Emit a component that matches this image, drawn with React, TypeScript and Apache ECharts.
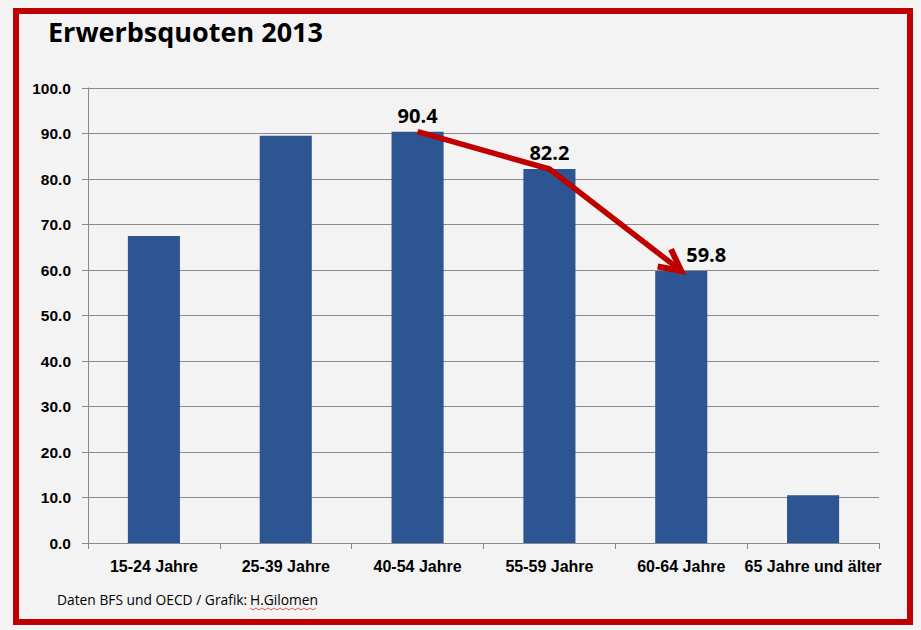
import React, { useEffect, useRef } from "react";
import * as echarts from "echarts";

const categories = ["15-24 Jahre", "25-39 Jahre", "40-54 Jahre", "55-59 Jahre", "60-64 Jahre", "65 Jahre und älter"];
const values = [67.5, 89.5, 90.4, 82.2, 59.8, 10.5];
const labeledIndices = [2, 3, 4];
const labelOffsets: Record<number, [number, number]> = { 2: [0, 0], 3: [0, 0], 4: [25, 0] };
const arrowPath: [number, number][] = [
  [2, 90.4],
  [3, 82.2],
  [4, 59.8],
];
const yMin = 0;
const yMax = 100;
const yInterval = 10;

const title = "Erwerbsquoten 2013";
const sourceText = "Daten BFS und OECD / Grafik: ";
const authorText = "H.Gilomen";

const RED = "#c00000";
const BLUE = "#2d5592";
const GRID = "#8a8a8a";
const ARIAL = "'Liberation Sans', Arial, sans-serif";
const SANS = "'Open Sans', 'Noto Sans', sans-serif";

export default function App() {
  const ref = useRef<HTMLDivElement>(null);

  useEffect(() => {
    if (!ref.current) return;
    const chart = echarts.init(ref.current, undefined, { renderer: "svg" });

    const barData = values.map((v, i) =>
      labeledIndices.includes(i)
        ? {
            value: v,
            label: {
              show: true,
              position: "top",
              distance: 6,
              offset: labelOffsets[i] || [0, 0],
              formatter: (p: any) => Number(p.value).toFixed(1),
              fontFamily: SANS,
              fontWeight: "bold",
              fontSize: 20,
              color: "#000",
            },
          }
        : { value: v }
    );

    // wavy underline points
    const wave: number[][] = [];
    for (let k = 0; k <= 22; k++) {
      wave.push([250 + k * 3, 608 + (k % 2 === 0 ? 0 : 2)]);
    }

    chart.setOption({
      animation: false,
      backgroundColor: "#f3f3f3",
      grid: { left: 88, right: 42, top: 88, bottom: 87, containLabel: false },
      xAxis: {
        type: "category",
        data: categories,
        axisLine: { show: true, lineStyle: { color: GRID, width: 1 } },
        axisTick: { show: true, interval: 0, length: 6, lineStyle: { color: GRID } },
        axisLabel: {
          interval: 0,
          margin: 15,
          fontFamily: ARIAL,
          fontWeight: "bold",
          fontSize: 16,
          color: "#000",
        },
        splitLine: { show: false },
      },
      yAxis: {
        type: "value",
        min: yMin,
        max: yMax,
        interval: yInterval,
        axisLine: { show: true, lineStyle: { color: GRID, width: 1 } },
        axisTick: { show: true, length: 6, lineStyle: { color: GRID } },
        axisLabel: {
          margin: 17,
          formatter: (v: number) => v.toFixed(1),
          fontFamily: ARIAL,
          fontWeight: "bold",
          fontSize: 15.5,
          color: "#000",
        },
        splitLine: { show: true, lineStyle: { color: GRID, width: 1 } },
      },
      series: [
        {
          type: "bar",
          data: barData,
          barWidth: "39.5%",
          itemStyle: { color: BLUE },
          label: { show: false },
        },
        {
          type: "custom",
          data: arrowPath,
          encode: { x: 0, y: 1 },
          z: 10,
          renderItem: (params: any, api: any) => {
            if (params.dataIndex !== arrowPath.length - 1) return null;
            const pts = arrowPath.map((p) => api.coord(p));
            const tip = pts[pts.length - 1];
            const prev = pts[pts.length - 2];
            const ang = Math.atan2(tip[1] - prev[1], tip[0] - prev[0]);
            const back = ang + Math.PI;
            const wl = 24;
            const half = (27 * Math.PI) / 180;
            const w1 = [tip[0] + wl * Math.cos(back - half), tip[1] + wl * Math.sin(back - half)];
            const w2 = [tip[0] + wl * Math.cos(back + half), tip[1] + wl * Math.sin(back + half)];
            return {
              type: "group",
              children: [
                {
                  type: "polyline",
                  shape: { points: pts },
                  style: { stroke: RED, lineWidth: 5.5, fill: null, lineJoin: "round", lineCap: "butt" },
                },
                {
                  type: "polyline",
                  shape: { points: [w1, tip, w2] },
                  style: { stroke: RED, lineWidth: 6, fill: null, lineJoin: "miter", lineCap: "butt" },
                },
              ],
            };
          },
        },
      ],
      graphic: [
        {
          type: "rect",
          shape: { x: 16, y: 11, width: 894, height: 611 },
          style: { fill: null, stroke: RED, lineWidth: 6 },
          silent: true,
        },
        {
          type: "text",
          left: 48,
          top: 18,
          style: { text: title, fontFamily: SANS, fontWeight: "bold", fontSize: 27, fill: "#000" },
        },
        {
          type: "text",
          left: 57,
          top: 592,
          style: { text: sourceText, fontFamily: SANS, fontSize: 13.8, fill: "#000" },
        },
        {
          type: "text",
          left: 250,
          top: 592,
          style: { text: authorText, fontFamily: SANS, fontSize: 13.8, fill: "#000" },
        },
        {
          type: "polyline",
          shape: { points: wave },
          style: { stroke: "#e03030", lineWidth: 0.8, fill: null },
          silent: true,
        },
      ],
    });

    return () => chart.dispose();
  }, []);

  return (
    <div
      ref={ref}
      style={{ position: "fixed", left: 0, top: 0, width: 921, height: 630 }}
    />
  );
}
